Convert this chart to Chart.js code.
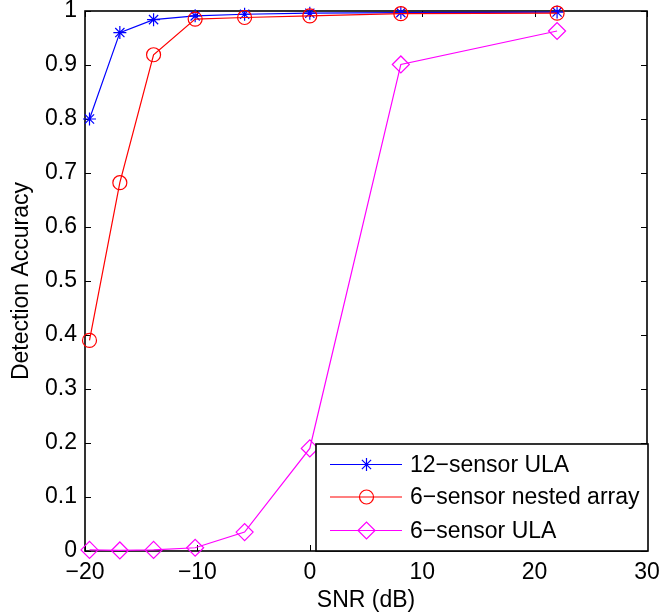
<!DOCTYPE html>
<html>
<head>
<meta charset="utf-8">
<script src="https://cdn.jsdelivr.net/npm/chart.js@4"></script>
<style>
  html, body { margin: 0; padding: 0; background: #fff; }
  #wrap { width: 660px; height: 614px; }
</style>
</head>
<body>
<div id="wrap"><canvas id="c" width="660" height="614"></canvas></div>
<script>
// ---- data ----
const snr = [-19.6, -16.9, -13.9, -10.2, -5.8, 0, 8.1, 22];
const ula12 = [0.80, 0.96, 0.984, 0.991, 0.994, 0.996, 0.997, 0.998];
const nested6 = [0.39, 0.682, 0.919, 0.985, 0.988, 0.991, 0.995, 0.996];
const ula6 = [0.002, 0.001, 0.002, 0.006, 0.035, 0.19, 0.901, 0.963];
const seriesLabels = ['12\u2212sensor ULA', '6\u2212sensor nested array', '6\u2212sensor ULA'];
const xTicks = [-20, -10, 0, 10, 20, 30];
const yTicks = [0, 0.1, 0.2, 0.3, 0.4, 0.5, 0.6, 0.7, 0.8, 0.9, 1];
const xTitle = 'SNR (dB)';
const yTitle = 'Detection Accuracy';

const FONT = '"Liberation Sans", Arial, Helvetica, sans-serif';
const FS = 23;

function pts(ys) { return snr.map((x, i) => ({ x: x, y: ys[i] })); }

const styles = [
  { color: '#0000ff', pointStyle: 'star', radius: 6.5 },
  { color: '#ff0000', pointStyle: 'circle', radius: 7 },
  { color: '#ff00ff', pointStyle: 'rectRot', radius: 8.5 }
];
const seriesData = [ula12, nested6, ula6];

const datasets = seriesData.map((d, i) => ({
  label: seriesLabels[i],
  data: pts(d),
  borderColor: styles[i].color,
  backgroundColor: 'rgba(0,0,0,0)',
  borderWidth: 1.2,
  pointStyle: styles[i].pointStyle,
  pointRadius: styles[i].radius,
  pointHoverRadius: styles[i].radius,
  pointBorderColor: styles[i].color,
  pointBackgroundColor: 'rgba(0,0,0,0)',
  pointBorderWidth: 1.2,
  showLine: true,
  tension: 0,
  clip: false,
  order: 3 - i
}));

const boxPlugin = {
  id: 'boxPlugin',
  beforeDatasetsDraw(chart) {
    const { ctx, chartArea: a, scales } = chart;
    ctx.save();
    ctx.strokeStyle = '#000';
    ctx.lineWidth = 1;
    const tl = 6;
    ctx.beginPath();
    xTicks.forEach(v => {
      const px = Math.round(scales.x.getPixelForValue(v)) + 0.5;
      ctx.moveTo(px, a.bottom); ctx.lineTo(px, a.bottom - tl);
      ctx.moveTo(px, a.top); ctx.lineTo(px, a.top + tl);
    });
    yTicks.forEach(v => {
      const py = Math.round(scales.y.getPixelForValue(v)) + 0.5;
      ctx.moveTo(a.left, py); ctx.lineTo(a.left + tl, py);
      ctx.moveTo(a.right, py); ctx.lineTo(a.right - tl, py);
    });
    ctx.stroke();
    ctx.lineWidth = 1.6;
    ctx.strokeRect(a.left, a.top, a.right - a.left, a.bottom - a.top);
    ctx.restore();
  },
  afterDraw(chart) {
    const { ctx, chartArea: a } = chart;
    const bx = 316, by = 444, bw = a.right - 316 + 1, bh = a.bottom - 444;
    ctx.save();
    ctx.fillStyle = '#fff';
    ctx.fillRect(bx, by, bw, bh);
    ctx.strokeStyle = '#000';
    ctx.lineWidth = 1.6;
    ctx.strokeRect(bx, by, bw, bh);
    const rows = [464.5, 497, 530.5];
    chart.data.datasets.forEach((ds, i) => {
      const y = rows[i];
      ctx.strokeStyle = ds.borderColor;
      ctx.lineWidth = 1.2;
      ctx.beginPath();
      ctx.moveTo(330, y); ctx.lineTo(402, y);
      ctx.stroke();
      ctx.strokeStyle = ds.borderColor;
      ctx.fillStyle = 'rgba(0,0,0,0)';
      ctx.lineWidth = 1.2;
      Chart.helpers.drawPoint(ctx, {
        pointStyle: ds.pointStyle, rotation: 0, borderWidth: 1.2, radius: ds.pointRadius
      }, 366.5, y);
      ctx.fillStyle = '#000';
      ctx.font = FS + 'px ' + FONT;
      ctx.textBaseline = 'middle';
      ctx.textAlign = 'left';
      ctx.fillText(ds.label, 410, y + 1);
    });
    ctx.restore();
  }
};

function noPad(s) {
  s.paddingLeft = 0; s.paddingRight = 0; s.paddingTop = 0; s.paddingBottom = 0;
}

new Chart(document.getElementById('c'), {
  type: 'line',
  data: { datasets: datasets },
  options: {
    responsive: false,
    animation: false,
    events: [],
    layout: { padding: { top: 11, right: 13, left: 0, bottom: 0 } },
    plugins: { legend: { display: false }, tooltip: { enabled: false } },
    scales: {
      x: {
        type: 'linear',
        min: -20, max: 30,
        afterBuildTicks(s) { s.ticks = xTicks.map(v => ({ value: v })); },
        afterFit(s) { s.height = 63; noPad(s); },
        grid: { display: false, drawTicks: false },
        border: { display: false },
        ticks: {
          color: '#000', padding: 8, maxRotation: 0,
          font: { family: FONT, size: FS },
          callback: v => String(v).replace('-', '\u2212')
        },
        title: {
          display: true, text: xTitle, color: '#000',
          font: { family: FONT, size: FS }, padding: { top: 0, bottom: 0 }
        }
      },
      y: {
        type: 'linear',
        min: 0, max: 1,
        afterBuildTicks(s) { s.ticks = yTicks.map(v => ({ value: v })); },
        afterFit(s) { s.width = 85; noPad(s); },
        grid: { display: false, drawTicks: false },
        border: { display: false },
        ticks: {
          color: '#000', padding: 8,
          font: { family: FONT, size: FS },
          callback: v => String(Math.round(v * 10) / 10)
        },
        title: {
          display: true, text: yTitle, color: '#000',
          font: { family: FONT, size: FS }, padding: { top: 8, bottom: 0 }
        }
      }
    }
  },
  plugins: [boxPlugin]
});
</script>
</body>
</html>
